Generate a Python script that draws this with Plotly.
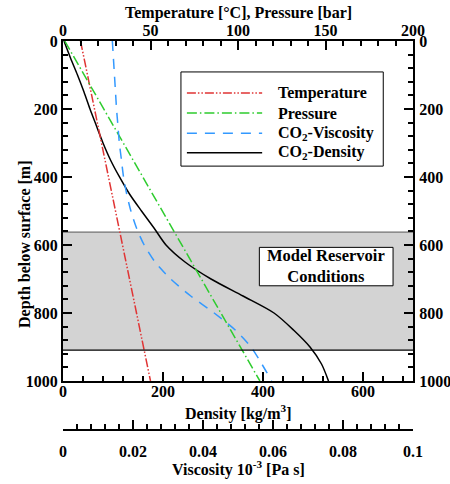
import plotly.graph_objects as go

# ---------------- data ----------------
depth = [0, 50, 100, 150, 200, 250, 300, 350, 400, 450, 500,
         550, 600, 650, 700, 750, 800, 850, 900, 950, 1000]
temperature = [10, 12, 14, 16, 18, 20, 22, 24, 26, 28, 30,
               32, 34, 36, 38, 40, 42, 44, 46, 48, 50]
pressure = [1, 6.6, 12.2, 17.7, 23.3, 28.9, 34.5, 40.0, 45.6, 51.2, 56.8,
            62.3, 67.9, 73.5, 79.1, 84.6, 90.2, 95.8, 101.4, 106.9, 112.5]
viscosity = [0.0141, 0.0144, 0.0147, 0.0150, 0.0153, 0.0157, 0.0161, 0.0167,
             0.0173, 0.0182, 0.0194, 0.0210, 0.0232, 0.0263, 0.0308, 0.0365,
             0.0432, 0.0492, 0.0537, 0.0568, 0.0596]
density = [2, 15, 29, 42, 54, 67, 80, 95, 113, 133, 157,
           182, 206, 244, 296, 360, 422, 461, 494, 517, 531]

reservoir_top = 562
reservoir_bottom = 909

series_names = ["Temperature", "Pressure", "CO<sub>2</sub>-Viscosity", "CO<sub>2</sub>-Density"]
colors = ["#e03434", "#2ecc2e", "#3399ff", "#000000"]
dashes = ["9px,2px,1.5px,2px,1.5px,2px", "10px,3px,1.5px,3px", "10px,8px", "solid"]

FONT = "Liberation Serif"

fig = go.Figure()

fig.add_trace(go.Scatter(x=temperature, y=depth, xaxis="x2", yaxis="y", mode="lines",
                         name="Temperature", showlegend=False,
                         line=dict(color=colors[0], width=1.5, dash=dashes[0])))
fig.add_trace(go.Scatter(x=pressure, y=depth, xaxis="x2", yaxis="y", mode="lines",
                         name="Pressure", showlegend=False,
                         line=dict(color=colors[1], width=1.5, dash=dashes[1])))
fig.add_trace(go.Scatter(x=viscosity, y=depth, xaxis="x3", yaxis="y", mode="lines",
                         name="CO2-Viscosity", showlegend=False,
                         line=dict(color=colors[2], width=1.5, dash=dashes[2],
                                   shape="spline", smoothing=0.8)))
fig.add_trace(go.Scatter(x=density, y=depth, xaxis="x", yaxis="y", mode="lines",
                         name="CO2-Density", showlegend=False,
                         line=dict(color=colors[3], width=1.5, shape="spline", smoothing=0.8)))
# invisible trace to carry the right-hand depth axis
fig.add_trace(go.Scatter(x=[0], y=[0], xaxis="x", yaxis="y2", mode="markers",
                         marker=dict(opacity=0), showlegend=False, hoverinfo="skip"))

tickfont = dict(family=FONT, size=16, color="black", weight="bold")
titlefont = dict(family=FONT, size=16, color="black", weight="bold")

common = dict(showgrid=False, zeroline=False, showline=True, linewidth=2, linecolor="black",
              ticks="inside", ticklen=9, tickwidth=2, tickcolor="black", tickfont=tickfont,
              automargin=False)

def minor(d):
    return dict(dtick=d, ticks="inside", ticklen=5, tickwidth=1.5, tickcolor="black")

ydom = [0.126, 1.0]

fig.update_layout(
    width=450, height=484,
    margin=dict(l=63, r=37, t=41, b=54, autoexpand=False),
    paper_bgcolor="white", plot_bgcolor="white",
    font=dict(family=FONT, color="black"),
    xaxis=dict(range=[0, 700], tick0=0, dtick=200, anchor="y", side="bottom",
               minor=minor(40), ticklabelstandoff=-5, **common),
    xaxis2=dict(range=[0, 200], tick0=0, dtick=50, anchor="y", side="top", overlaying="x",
                minor=minor(10), ticklabelstandoff=-3, **common),
    xaxis3=dict(range=[0, 0.1], tick0=0, dtick=0.02, anchor="free", position=0, side="bottom",
                overlaying="x", minor=minor(0.004), ticklabelstandoff=7, **common),
    yaxis=dict(range=[1000, 0], tick0=0, dtick=200, domain=ydom, anchor="x", side="left",
               minor=minor(40), ticklabelstandoff=0, **common),
    yaxis2=dict(range=[1000, 0], tick0=0, dtick=200, domain=ydom, anchor="x", side="right",
                overlaying="y", minor=minor(40), ticklabelstandoff=1, **common),
)

annotations = []
# axis titles (positions in paper coordinates)
annotations.append(dict(xref="paper", yref="paper", x=0.5, y=1.073,
                        text="<b>Temperature [°C], Pressure [bar]</b>", showarrow=False,
                        xanchor="center", yanchor="middle", font=titlefont))
annotations.append(dict(xref="paper", yref="paper", x=0.5, y=0.046,
                        text="<b>Density [kg/m<sup>3</sup>]</b>", showarrow=False,
                        xanchor="center", yanchor="middle", font=titlefont))
annotations.append(dict(xref="paper", yref="paper", x=0.5, y=-0.098,
                        text="<b>Viscosity 10<sup>-3</sup> [Pa s]</b>", showarrow=False,
                        xanchor="center", yanchor="middle", font=titlefont))
annotations.append(dict(xref="paper", yref="paper", x=-0.107, y=0.477,
                        text="<b>Depth below surface [m]</b>", showarrow=False, textangle=-90,
                        xanchor="center", yanchor="middle", font=titlefont))

shapes = []
# reservoir band
shapes.append(dict(type="rect", xref="x domain", yref="y", x0=0, x1=1,
                   y0=reservoir_top, y1=reservoir_bottom, fillcolor="#d3d3d3",
                   line=dict(width=0), layer="below"))
shapes.append(dict(type="line", xref="x domain", yref="y", x0=0, x1=1,
                   y0=reservoir_top, y1=reservoir_top, line=dict(color="#555555", width=1),
                   layer="below"))
shapes.append(dict(type="line", xref="x domain", yref="y", x0=0, x1=1,
                   y0=reservoir_bottom, y1=reservoir_bottom, line=dict(color="black", width=1.3),
                   layer="above"))

# legend box
shapes.append(dict(type="rect", xref="x domain", yref="y domain", x0=0.337, x1=0.915,
                   y0=0.632, y1=0.909, fillcolor="white", line=dict(color="black", width=1),
                   layer="above"))
leg_y = [0.847, 0.788, 0.729, 0.671]
for name, c, d, yy in zip(series_names, colors, dashes, leg_y):
    shapes.append(dict(type="line", xref="x domain", yref="y domain", x0=0.354, x1=0.569,
                       y0=yy, y1=yy, line=dict(color=c, width=1.5, dash=d), layer="above"))
    annotations.append(dict(xref="x domain", yref="y domain", x=0.608, y=yy, text="<b>%s</b>" % name,
                            showarrow=False, xanchor="left", yanchor="middle",
                            font=dict(family=FONT, size=16, color="black")))

# model reservoir box
shapes.append(dict(type="rect", xref="x domain", yref="y domain", x0=0.561, x1=0.943,
                   y0=0.280, y1=0.393, fillcolor="white", line=dict(color="black", width=1),
                   layer="above"))
annotations.append(dict(xref="x domain", yref="y domain", x=0.752, y=0.337,
                        text="<b>Model Reservoir</b><br><b>Conditions</b>",
                        showarrow=False, xanchor="center", yanchor="middle", align="center",
                        font=dict(family=FONT, size=16.5, color="black")))

fig.update_layout(shapes=shapes, annotations=annotations)

fig.write_html("out.html", config={"displayModeBar": False},
               post_script="document.body.style.margin='0px';document.body.style.overflow='hidden';")
